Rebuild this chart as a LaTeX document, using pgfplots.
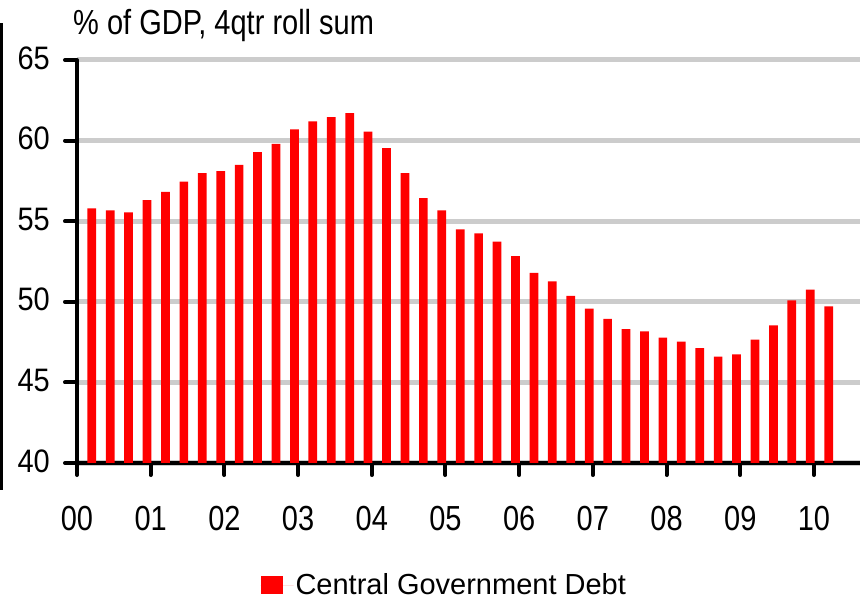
\documentclass[border=0pt]{standalone}
\usepackage{pgfplots}
\pgfplotsset{compat=1.18}
\usepackage{pgfplotstable}
\usepackage{fontspec}
\setmainfont{Liberation Sans}
\pgfplotstableread{
x y
0.8 55.80
1.8 55.67
2.8 55.54
3.8 56.30
4.8 56.82
5.8 57.46
6.8 57.98
7.8 58.10
8.8 58.50
9.8 59.29
10.8 59.80
11.8 60.70
12.8 61.20
13.8 61.46
14.8 61.70
15.8 60.55
16.8 59.53
17.8 57.98
18.8 56.43
19.8 55.67
20.8 54.50
21.8 54.24
22.8 53.74
23.8 52.83
24.8 51.79
25.8 51.27
26.8 50.36
27.8 49.58
28.8 48.94
29.8 48.30
30.8 48.17
31.8 47.78
32.8 47.53
33.8 47.13
34.8 46.60
35.8 46.74
36.8 47.65
37.8 48.54
38.8 50.09
39.8 50.75
40.8 49.71
}\debt
\begin{document}
\begin{tikzpicture}
\useasboundingbox (0,0) rectangle (862bp,604bp);
\draw[line width=2bp, black] (1.5bp,114bp) -- (1.5bp,581bp);
\node[anchor=base west, font=\fontsize{29bp}{29bp}\selectfont, inner sep=0pt, yscale=1.2] at (73bp,569bp) {\% of GDP, 4qtr roll sum};
\begin{axis}[
  at={(77bp,141bp)}, anchor=south west,
  scale only axis, width=783bp, height=403bp,
  xmin=0, xmax=42.5, ymin=40, ymax=65,
  ytick={40,45,50,55,60,65},
  xtick={0,4,8,12,16,20,24,28,32,36,40},
  xticklabels={00,01,02,03,04,05,06,07,08,09,10},
  axis x line*=bottom, axis y line*=left,
  axis line style={line width=4bp, black, -},
  tick align=outside, major tick length=12bp,
  major tick style={line width=4bp, black, line cap=round},
  ymajorgrids, grid style={line width=5bp, color=black!20},
  ticklabel style={font=\fontsize{29bp}{29bp}\selectfont, inner sep=0pt},
  xticklabel style={anchor=base, yshift=-55bp, yscale=1.2},
  yticklabel style={anchor=east, xshift=-15bp, yshift=2bp, yscale=1.12},
  /pgf/number format/assume math mode=true,
  legend style={at={(0.469,-0.303)}, anchor=center, draw=none,
    font=\fontsize{29bp}{29bp}\selectfont},
  legend image code/.code={\path (0bp,0bp) -- (33bp,0bp);\fill[red] (0bp,-9bp) rectangle (22bp,9bp);},
]
\addplot[ybar, bar width=8.7bp, fill=red, draw=none] table[x=x,y=y] {\debt};
\addlegendentry{Central Government Debt}
\end{axis}
\end{tikzpicture}
\end{document}
